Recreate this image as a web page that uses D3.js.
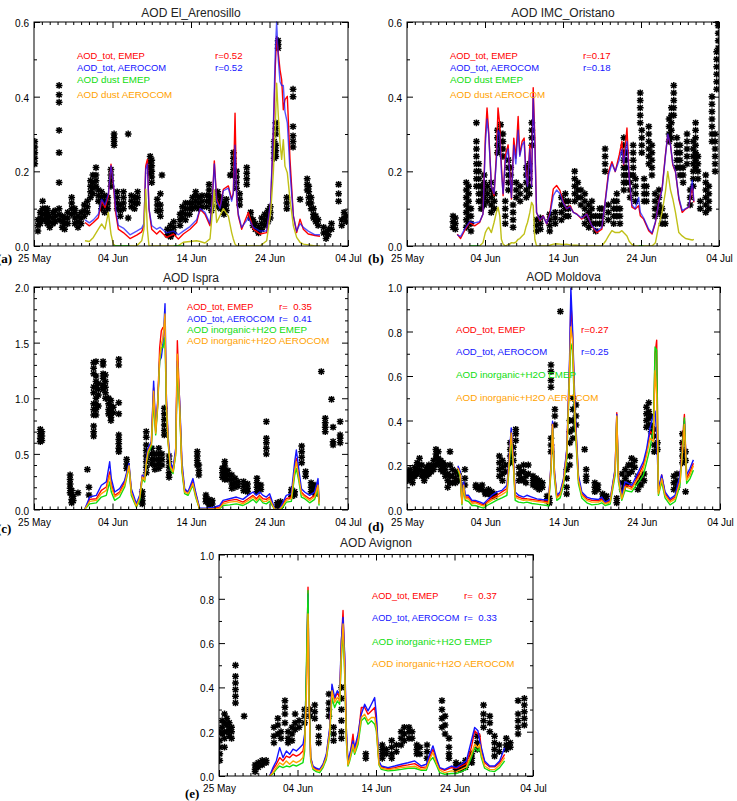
<!DOCTYPE html>
<html>
<head>
<meta charset="utf-8">
<script src="https://cdn.jsdelivr.net/npm/d3@7"></script>
<style>
body{margin:0;background:#fff;}
svg text{font-family:"Liberation Sans",Arial,sans-serif;}
</style>
</head>
<body>
<svg id="fig" width="737" height="801"></svg>
<script>
// x values are days since 25 May 00:00
var dateTicks = [0, 10, 20, 30, 40];
var dateLabels = ["25 May", "04 Jun", "14 Jun", "24 Jun", "04 Jul"];
var ticks06 = [0, 0.2, 0.4, 0.6];
var ticks10 = [0, 0.2, 0.4, 0.6, 0.8, 1.0];
var ticks20 = [0, 0.5, 1.0, 1.5, 2.0];

// ---- (a) El_Arenosillo
var tA = [6.50,7.05,7.56,8.20,8.62,9.04,9.47,9.81,10.11,10.40,10.74,11.38,12.23,13.08,13.72,14.01,14.23,14.44,14.65,14.99,
  15.63,16.05,16.90,17.75,18.39,19.02,19.87,20.72,21.15,21.78,22.42,22.72,22.97,23.27,23.69,24.12,24.76,25.18,25.39,25.61,
  25.82,26.03,26.45,27.30,27.94,28.79,29.64,30.15,30.49,30.74,30.91,31.12,31.34,31.55,31.76,31.97,32.27,32.61,33.04,33.46,
  33.89,34.31,34.94,35.80,36.43];
var totEmepA = [0.063,0.054,0.063,0.076,0.121,0.103,0.134,0.219,0.165,0.09,0.045,0.036,0.02,0.029,0.038,0.054,0.214,0.232,0.099,0.045,
  0.032,0.041,0.023,0.032,0.019,0.032,0.045,0.063,0.099,0.085,0.054,0.125,0.228,0.125,0.103,0.152,0.161,0.125,0.143,0.356,
  0.125,0.081,0.045,0.09,0.045,0.032,0.036,0.116,0.303,0.481,0.561,0.516,0.472,0.445,0.365,0.392,0.401,0.232,0.081,0.036,
  0.072,0.045,0.032,0.028,0.026];
var totAeroA = [0.07,0.062,0.07,0.085,0.125,0.11,0.14,0.215,0.17,0.1,0.055,0.048,0.03,0.04,0.048,0.06,0.205,0.22,0.1,0.055,
  0.045,0.05,0.035,0.04,0.03,0.04,0.052,0.07,0.1,0.09,0.06,0.125,0.22,0.12,0.1,0.148,0.155,0.12,0.14,0.27,
  0.13,0.085,0.05,0.075,0.05,0.04,0.04,0.12,0.32,0.52,0.6,0.5,0.44,0.43,0.43,0.36,0.33,0.2,0.08,0.04,
  0.06,0.05,0.04,0.03,0.03];
var dustAeroA = [0.014,0.012,0.023,0.045,0.059,0.045,0.09,0.032,0.005,0,0,0,0,0,0.014,0.045,0.152,0.045,0,0,
  0,0,0,0,0.001,0.01,0.012,0.014,0.012,0.008,0.019,0.09,0.15,0.063,0.081,0.1,0.08,0.036,0.019,0.005,
  0,0,0,0,0,0,0.014,0.09,0.196,0.32,0.436,0.35,0.276,0.232,0.285,0.214,0.196,0.125,0.054,0.023,
  0.01,0.005,0.003,0,0];
var dustEmepA = [[10.1,0],[10.7,0],[11.4,0],[12.2,0],[12.5,null],[17.8,0],[18.4,0],[19.0,0]];
var obsA = [[0.1,[0.28,0.265,0.25,0.235,0.22]],[0.5,[0.04,0.055,0.07]],[0.8,[0.06,0.075,0.09]],[1.1,[0.07,0.085,0.1,0.12]],
  [1.4,[0.07,0.085,0.1]],[1.7,[0.06,0.075,0.09,0.1]],[2.0,[0.05,0.065,0.08]],[2.4,[0.06,0.075,0.09]],[2.7,[0.065,0.08,0.095]],
  [3.2,[0.43,0.405,0.385,0.31,0.25,0.17,0.1,0.085,0.07]],[3.6,[0.05,0.065,0.08]],[3.9,[0.045,0.06,0.075]],[4.3,[0.06,0.075,0.09]],
  [4.8,[0.13,0.115,0.1,0.085]],[5.2,[0.06,0.075,0.09,0.1]],[5.6,[0.05,0.065,0.08]],[6.0,[0.06,0.075,0.09]],[6.4,[0.08,0.095,0.11]],
  [6.8,[0.09,0.105,0.12]],[7.2,[0.13,0.145,0.16,0.175]],[7.5,[0.14,0.155,0.17,0.19]],[7.9,[0.16,0.175,0.19,0.21]],
  [8.2,[0.12,0.135,0.15]],[8.6,[0.1,0.115,0.13,0.145]],[9.0,[0.09,0.105,0.12,0.135]],[9.4,[0.1,0.115,0.13]],
  [9.8,[0.16,0.175,0.19,0.205]],[10.2,[0.27,0.28,0.29,0.3]],[10.6,[0.1,0.115,0.13,0.145]],[11.0,[0.08,0.095,0.11]],
  [11.4,[0.1,0.115,0.13,0.145]],[12.0,[0.3,0.075]],[12.4,[0.105,0.12,0.135]],[12.8,[0.1,0.115,0.13]],[13.2,[0.115,0.13,0.145]],
  [14.8,[0.24,0.225,0.21,0.195]],[15.0,[0.23,0.215,0.2,0.185,0.17]],[15.7,[0.095,0.11,0.125]],[16.1,[0.08,0.095,0.11,0.14]],
  [16.3,[0.19]],[17.0,[0.03,0.045]],[17.4,[0.025,0.04,0.055]],[17.8,[0.035,0.05,0.065]],[18.6,[0.055,0.07,0.085]],
  [18.9,[0.075,0.09,0.105]],[19.3,[0.07,0.085,0.1,0.115]],[19.8,[0.085,0.1,0.115]],[20.2,[0.1,0.115,0.13]],
  [20.6,[0.105,0.12,0.135,0.145]],[21.0,[0.1,0.115,0.13]],[21.4,[0.105,0.12,0.135]],[22.0,[0.105,0.12,0.135]],
  [22.3,[0.12,0.135,0.15,0.165]],[22.6,[0.095,0.11,0.125]],[23.4,[0.105,0.12,0.135,0.145]],[23.8,[0.1,0.115,0.13]],
  [24.2,[0.085,0.1,0.115]],[24.5,[0.095,0.11,0.125]],[25.0,[0.19]],[25.4,[0.25,0.235,0.22,0.205,0.19]],
  [25.8,[0.2,0.185,0.17,0.155]],[26.2,[0.14,0.125,0.11]],[27.1,[0.21,0.195,0.18,0.165]],[27.6,[0.075,0.09]],[27.9,[0.055,0.07]],
  [28.2,[0.045,0.06]],[28.6,[0.035,0.05]],[29.0,[0.045,0.06,0.075]],[29.4,[0.055,0.07,0.085]],[29.8,[0.065,0.08,0.095]],
  [30.1,[0.075,0.09,0.105]],[30.6,[0.28,0.265,0.25,0.235]],[30.8,[0.33,0.315,0.3,0.27,0.255,0.24]],[31.1,[0.55,0.54,0.53]],
  [32.2,[0.13,0.115,0.1]],[33.0,[0.42,0.4,0.32,0.295,0.28,0.265]],[33.9,[0.125]],[34.8,[0.18,0.165,0.15]],
  [35.0,[0.16,0.145,0.13,0.115]],[35.3,[0.13,0.115,0.1]],[35.6,[0.1,0.085,0.075]],[35.9,[0.08,0.065]],[36.2,[0.055,0.07]],
  [36.9,[0.035,0.05]],[37.2,[0.02,0.035]],[37.5,[0.03,0.045]],[37.9,[0.045,0.06]],[38.8,[0.165,0.14,0.12]],[39.2,[0.055,0.07]],
  [39.5,[0.075,0.09]],[39.8,[0.065,0.08]]];

// ---- (b) IMC_Oristano
var tB = [6.44,6.87,7.38,8.03,8.67,9.31,9.74,10.04,10.26,10.47,10.82,11.16,11.46,11.67,11.89,12.10,12.32,12.62,12.96,13.18,
  13.39,13.69,13.95,14.25,14.46,14.76,15.02,15.24,15.45,15.75,15.97,16.18,16.39,16.61,17.04,17.47,17.90,18.33,18.76,19.18,
  19.61,20.04,20.47,20.90,21.33,21.76,22.40,23.05,23.69,24.33,24.98,25.49,25.84,26.27,26.70,27.21,27.55,27.77,28.20,28.50,
  28.84,29.27,29.70,29.91,30.34,30.99,31.42,31.85,32.27,32.70,33.13,33.43,33.78,34.08,34.42,34.85,35.28,35.71,36.14,36.57,36.78];
var totEmepB = [0.032,0.02,0.041,0.063,0.054,0.063,0.086,0.289,0.37,0.307,0.162,0.135,0.244,0.37,0.325,0.217,0.135,0.244,0.271,0.199,
  0.126,0.289,0.235,0.347,0.244,0.28,0.289,0.199,0.162,0.271,0.162,0.424,0.289,0.09,0.068,0.081,0.059,0.09,0.153,0.162,
  0.149,0.117,0.099,0.108,0.09,0.086,0.072,0.086,0.054,0.036,0.045,0.135,0.199,0.226,0.199,0.244,0.28,0.217,0.316,0.18,
  0.104,0.099,0.108,0.081,0.072,0.041,0.032,0.063,0.117,0.153,0.244,0.298,0.271,0.217,0.199,0.126,0.09,0.099,0.104,0.162,0.117];
var totAeroB = [0.03,0.025,0.045,0.065,0.062,0.065,0.085,0.27,0.34,0.3,0.16,0.14,0.23,0.31,0.3,0.2,0.14,0.23,0.26,0.19,
  0.13,0.27,0.22,0.31,0.24,0.27,0.28,0.19,0.16,0.26,0.16,0.4,0.27,0.09,0.07,0.08,0.06,0.085,0.135,0.15,
  0.14,0.115,0.1,0.105,0.09,0.085,0.075,0.085,0.055,0.04,0.05,0.13,0.19,0.22,0.2,0.23,0.26,0.22,0.28,0.18,
  0.11,0.1,0.13,0.09,0.075,0.045,0.035,0.065,0.115,0.15,0.24,0.3,0.27,0.22,0.2,0.13,0.095,0.1,0.105,0.176,0.12];
var dustAeroB = [null,null,null,null,null,0,0.009,0.036,0.045,0.05,0.036,0.063,0.09,0.104,0.081,0.018,0.005,0,0.004,0.005,
  0.009,0.008,0.01,0.018,0.02,0.027,0.032,0.05,0.063,0.09,0.117,0.108,0.018,0,0,0,0,0.002,0.005,0.006,
  0.005,0.004,0.005,0.003,0.002,0.002,0,0,0,0,0,0.014,0.027,0.041,0.036,0.036,0.041,0.036,0.027,0.012,
  0.004,0,0,0,0,0,0,0.009,0.054,0.09,0.145,0.2,0.15,0.126,0.09,0.036,0.027,0.02,0.018,0.016,0.018];
var dustEmepB = [[8.0,0],[8.7,0],[9.3,0],[9.5,null],[29.7,0],[30.3,0]];
var obsB = [[5.9,[0.05,0.065,0.08]],[6.2,[0.045,0.06,0.075]],[7.6,[0.05,0.07,0.09,0.11,0.13,0.15,0.17]],
  [7.9,[0.06,0.08,0.1,0.12,0.14,0.16]],[8.2,[0.04,0.06,0.08,0.1]],[8.9,[0.33,0.28,0.26,0.24,0.22,0.2,0.18,0.16]],
  [9.2,[0.12,0.14,0.16,0.18,0.2,0.22]],[9.5,[0.1,0.12,0.14,0.16]],[9.9,[0.11,0.13,0.15,0.17,0.19]],[10.3,[0.12,0.14,0.16]],
  [10.8,[0.09,0.11,0.13,0.15,0.17]],[11.2,[0.1,0.12,0.14]],[11.6,[0.25,0.27,0.29,0.31]],[12.0,[0.26,0.28,0.3,0.325]],
  [12.3,[0.24,0.26,0.28,0.3]],[12.6,[0.06,0.08,0.1,0.12]],[13.0,[0.15,0.17,0.19,0.21,0.23]],[13.3,[0.17,0.19,0.21]],
  [13.6,[0.05,0.07,0.09,0.11]],[14.0,[0.13,0.15,0.17]],[14.5,[0.12,0.14,0.16]],[15.3,[0.13,0.15,0.17,0.19,0.21]],
  [15.7,[0.14,0.16,0.18,0.2,0.22]],[16.0,[0.27,0.29,0.31,0.33]],[16.6,[0.04,0.055,0.07]],[17.1,[0.045,0.06,0.075]],
  [18.3,[0.04,0.055,0.07,0.085]],[19.0,[0.06,0.075,0.09]],[19.8,[0.07,0.09,0.11,0.13]],[20.3,[0.08,0.1,0.12,0.14]],
  [20.7,[0.08,0.1,0.12]],[21.5,[0.12,0.14,0.16,0.18,0.2]],[21.9,[0.13,0.15,0.17]],[22.3,[0.11,0.13,0.15]],
  [22.8,[0.06,0.08,0.1,0.12,0.14]],[23.3,[0.05,0.07,0.09,0.11]],[23.7,[0.06,0.08,0.1,0.12]],[24.2,[0.04,0.06,0.08]],
  [24.7,[0.06,0.08,0.1]],[25.0,[0.06,0.08,0.1]],[25.4,[0.2,0.22,0.24,0.26]],[25.8,[0.07,0.09,0.11]],[26.5,[0.06,0.08,0.1,0.12]],
  [26.9,[0.08,0.1,0.12,0.14]],[27.3,[0.06,0.08,0.1]],[27.8,[0.15,0.17,0.19,0.21,0.23,0.25,0.27,0.29]],
  [28.1,[0.17,0.19,0.21,0.23,0.25]],[28.6,[0.13,0.15,0.17,0.19]],[29.0,[0.19,0.21,0.23,0.25,0.27]],[29.3,[0.12,0.14,0.16,0.18]],
  [29.9,[0.33,0.35,0.37,0.39,0.41]],[30.1,[0.25,0.27,0.29,0.31]],[30.4,[0.12,0.14,0.16,0.18]],[30.7,[0.12,0.14,0.16]],
  [31.0,[0.22,0.24,0.26,0.28,0.3,0.32]],[31.4,[0.19,0.21,0.23,0.25,0.27]],[31.8,[0.08,0.1,0.12,0.14]],
  [32.3,[0.09,0.11,0.13,0.15]],[32.7,[0.06,0.08,0.1]],[33.1,[0.06,0.08]],[33.6,[0.28,0.3,0.32,0.34]],
  [33.9,[0.29,0.31,0.33,0.35,0.37]],[34.2,[0.35,0.37,0.39,0.41,0.43]],[34.6,[0.21,0.23,0.25,0.27,0.29]],
  [35.0,[0.19,0.21,0.23,0.25,0.27]],[35.4,[0.17,0.19,0.21]],[35.9,[0.22,0.24,0.26,0.28,0.3]],[36.3,[0.11,0.13,0.15]],
  [36.7,[0.16,0.18,0.2,0.22,0.24,0.26,0.28]],[37.0,[0.21,0.23,0.25,0.27,0.29,0.31,0.33]],[37.3,[0.18,0.2,0.22,0.24]],
  [37.6,[0.1,0.12]],[38.3,[0.09,0.11,0.13,0.15,0.17,0.19]],[38.7,[0.1,0.12,0.14,0.16]],[39.1,[0.28,0.3,0.32,0.34,0.36,0.38,0.4]],
  [39.5,[0.2,0.22,0.24,0.26,0.28,0.3]],[39.7,[0.42,0.44,0.46,0.48,0.5,0.52]],[39.9,[0.53,0.55,0.57,0.59,0.6]]];

// ---- (c) Ispra
var tC = [6.45,7.09,7.94,8.58,9.21,9.64,9.85,10.28,10.91,11.55,12.10,12.40,13.04,13.46,13.80,14.10,14.31,14.52,14.95,15.24,
  15.50,15.75,16.01,16.22,16.43,16.69,16.86,17.07,17.37,17.71,18.05,18.26,18.56,18.85,19.19,19.62,20.25,20.59,21.10,21.95,
  22.80,23.65,24.08,24.93,25.77,26.62,27.26,27.90,28.32,28.75,29.17,29.60,30.02,30.66,31.29,31.72,32.14,32.78,33.21,33.42,
  33.72,34.06,34.48,35.12,35.75,36.18,36.31];
var totAeroC = [0,0.112,0.127,0.218,0.248,0.429,0.278,0.157,0.187,0.263,0.414,0.187,0.051,0.127,0.308,0.293,0.459,0.55,0.61,1.154,
  0.731,0.973,1.335,1.366,1.486,1.849,1.033,0.671,0.429,0.369,0.55,1.335,0.973,0.429,0.187,0.157,0.278,0.157,0.012,0.012,
  0.018,0.036,0.082,0.097,0.112,0.091,0.127,0.157,0.127,0.157,0.127,0.112,0.142,0.006,0.003,0.066,0.127,0.142,0.429,0.535,
  0.369,0.187,0.157,0.127,0.157,0.278,0.082];
var totEmepC = [0,0.091,0.097,0.172,0.202,0.338,0.233,0.127,0.157,0.248,0.399,0.157,0.036,0.112,0.308,0.278,0.429,0.535,0.595,1.094,
  0.701,0.943,1.456,1.607,1.637,1.637,0.973,0.64,0.399,0.338,0.52,1.517,0.943,0.369,0.172,0.157,0.248,0.142,0.006,0.006,
  0.009,0.021,0.066,0.082,0.091,0.066,0.097,0.127,0.097,0.127,0.097,0.091,0.112,0,0,0.051,0.097,0.112,0.369,0.459,
  0.308,0.157,0.127,0.097,0.127,0.233,0.066];
var inorgAeroC = [0,0.073,0.082,0.142,0.172,0.308,0.202,0.112,0.142,0.224,0.393,0.151,0.03,0.103,0.293,0.263,0.429,0.52,0.586,1.063,
  0.686,0.937,1.366,1.486,1.547,1.758,0.973,0.625,0.384,0.338,0.505,1.396,0.912,0.369,0.157,0.142,0.233,0.127,0,0.003,
  0.003,0.012,0.051,0.066,0.073,0.051,0.079,0.112,0.082,0.112,0.073,0.073,0.097,0,0,0.036,0.082,0.097,0.353,0.429,
  0.293,0.142,0.112,0.082,0.112,0.218,0.051];
var inorgEmepC = [0,0.051,0.06,0.112,0.127,0.248,0.157,0.082,0.112,0.202,0.384,0.127,0.021,0.082,0.278,0.248,0.414,0.505,0.565,0.973,
  0.671,0.912,1.335,1.456,1.456,1.547,0.912,0.61,0.369,0.323,0.489,1.275,0.882,0.338,0.142,0.127,0.218,0.112,0,0,
  0,0.006,0.036,0.042,0.051,0.036,0.06,0.091,0.06,0.097,0.06,0.051,0.073,0,0,0.021,0.066,0.073,0.308,0.369,
  0.263,0.112,0.097,0.06,0.091,0.187,0.036];
var obsC = [[0.8,[0.72,0.68,0.64,0.61]],[1.0,[0.7,0.66,0.62]],[4.6,[0.31,0.27,0.23,0.19,0.15]],[4.8,[0.17,0.13,0.09,0.06]],
  [5.0,[0.12,0.08]],[5.6,[0.15]],[6.8,[0.36]],[7.0,[0.2,0.13]],[7.6,[1.32,1.27,1.22,1.1,1.05,0.95,0.9,0.85,0.75,0.7,0.66]],
  [7.9,[1.33,1.2,1.15,1.1,1.0,0.95,0.9,0.85]],[8.2,[1.13,1.08,1.03,0.93]],[8.8,[1.33,1.3,1.22,1.18,1.12,1.08]],
  [9.1,[1.21,1.15,1.1,1.05,1.0]],[9.5,[1.0,0.95,0.9,0.86]],[9.8,[0.98,0.93,0.88,0.83,0.8]],[10.1,[0.92,0.87]],
  [10.8,[1.35,1.3,0.96,0.86,0.67,0.63,0.59,0.55,0.52]],[11.8,[0.45,0.41,0.37]],[13.8,[0.16,0.12,0.08,0.05]],
  [14.3,[0.7,0.65,0.58,0.53,0.48,0.43,0.38,0.33]],[15.0,[0.55,0.5,0.45,0.41]],[15.4,[0.5,0.45,0.4,0.36]],
  [15.9,[0.55,0.5,0.45,0.41,0.37]],[16.3,[0.5,0.45,0.4]],[16.6,[0.91,0.86,0.81,0.76,0.71,0.67]],[17.2,[0.48,0.43,0.38,0.33,0.29]],
  [20.8,[0.52,0.48,0.44,0.4]],[21.0,[0.4,0.35,0.31]],[21.9,[0.13,0.1,0.07]],[22.3,[0.09,0.06,0.04]],[22.7,[0.08,0.05]],
  [24.0,[0.37,0.33,0.29]],[24.3,[0.43,0.39,0.35,0.31,0.27]],[24.7,[0.35,0.31,0.27]],[25.2,[0.31,0.27,0.23,0.19]],
  [25.6,[0.28,0.24,0.2]],[26.0,[0.25,0.21]],[26.7,[0.25,0.21,0.17]],[27.2,[0.23,0.19,0.16]],[28.4,[0.28,0.24,0.2,0.16]],
  [28.9,[0.22,0.18]],[29.6,[0.79,0.64,0.6,0.55,0.5]],[31.0,[0.06,0.03,0.01]],[31.4,[0.07,0.04,0.02]],[32.8,[0.18,0.15,0.12]],
  [33.2,[0.16,0.13]],[34.1,[0.57,0.52,0.47,0.42]],[34.6,[0.34,0.3]],[35.3,[0.24,0.2,0.16]],[35.8,[0.22,0.18,0.14]],[36.6,[1.24]],
  [37.1,[0.82,0.78,0.74,0.7]],[37.9,[0.99]],[38.1,[0.74,0.61,0.58]],[39.0,[0.79,0.67,0.64,0.6]]];

// ---- (d) Moldova
var tD = [6.51,6.81,7.02,7.23,7.45,7.87,8.30,8.72,9.36,9.79,10.21,10.85,11.49,12.13,12.77,12.98,13.32,13.62,13.83,14.26,
  14.89,15.32,15.96,16.60,17.23,17.87,18.09,18.43,18.60,18.85,19.15,19.57,20.00,20.43,20.77,20.94,21.15,21.49,21.91,22.34,
  22.98,23.62,24.47,24.89,25.32,25.96,26.60,26.81,27.02,27.45,27.87,28.30,28.72,29.15,29.79,30.21,30.64,31.06,31.49,31.70,
  31.91,32.13,32.55,32.98,33.62,34.26,34.89,35.32,35.45,35.74,36.17,36.60];
var totAeroD = [0.197,0.17,0.033,0.124,0.064,0.064,0.041,0.041,0.033,0.026,0.041,0.064,0.079,0.086,0.109,0.2,0.367,0.215,0.079,0.064,
  0.056,0.064,0.056,0.048,0.045,0.044,0.041,0.215,0.397,0.17,0.064,0.079,0.139,0.276,0.67,0.995,0.821,0.442,0.155,0.079,
  0.056,0.048,0.045,0.056,0.033,0.045,0.185,0.427,0.155,0.064,0.124,0.117,0.109,0.139,0.185,0.215,0.276,0.367,0.427,0.442,
  0.336,0.094,0.155,0.079,0.048,0.064,0.155,0.306,0.397,0.155,0.185,0.223];
var totEmepD = [0.192,0.162,0.03,0.117,0.056,0.056,0.033,0.036,0.026,0.021,0.033,0.052,0.064,0.079,0.094,0.185,0.352,0.2,0.064,0.056,
  0.048,0.048,0.045,0.042,0.039,0.036,0.033,0.208,0.389,0.162,0.056,0.071,0.132,0.268,0.639,0.942,0.791,0.412,0.139,0.071,
  0.048,0.041,0.039,0.048,0.03,0.039,0.177,0.435,0.147,0.056,0.109,0.106,0.1,0.124,0.17,0.2,0.261,0.352,0.336,0.7,
  0.761,0.079,0.155,0.071,0.041,0.056,0.139,0.367,0.427,0.139,0.17,0.208];
var inorgAeroD = [0.185,0.155,0.026,0.109,0.048,0.048,0.026,0.03,0.021,0.015,0.027,0.042,0.055,0.067,0.082,0.177,0.344,0.192,0.056,0.048,
  0.041,0.044,0.039,0.036,0.033,0.03,0.027,0.2,0.382,0.155,0.052,0.064,0.124,0.253,0.624,0.821,0.761,0.397,0.132,0.064,
  0.041,0.033,0.033,0.041,0.026,0.033,0.17,0.42,0.139,0.048,0.102,0.097,0.091,0.117,0.155,0.185,0.245,0.321,0.306,0.624,
  0.518,0.071,0.139,0.064,0.033,0.048,0.124,0.306,0.382,0.132,0.155,0.197];
var inorgEmepD = [0.177,0.147,0.021,0.102,0.041,0.036,0.018,0.018,0.011,0.006,0.018,0.03,0.042,0.052,0.064,0.155,0.314,0.177,0.041,0.033,
  0.03,0.033,0.027,0.024,0.021,0.018,0.015,0.185,0.367,0.139,0.041,0.052,0.109,0.23,0.594,0.745,0.715,0.367,0.117,0.052,
  0.03,0.021,0.024,0.03,0.018,0.024,0.155,0.412,0.124,0.041,0.086,0.082,0.079,0.102,0.132,0.155,0.215,0.276,0.367,0.73,
  0.715,0.064,0.124,0.052,0.021,0.036,0.109,0.336,0.412,0.117,0.139,0.177];
var obsD = [[0.1,[0.17,0.15,0.13]],[0.4,[0.18,0.16,0.14]],[0.7,[0.16,0.14,0.12]],[1.0,[0.19,0.17,0.15]],[1.3,[0.21,0.18,0.16]],
  [1.6,[0.23,0.2,0.18]],[1.9,[0.2,0.17,0.15]],[2.2,[0.17,0.15,0.13]],[2.5,[0.19,0.17,0.15]],[2.8,[0.2,0.18,0.16]],[3.1,[0.19,0.17]],
  [3.4,[0.22,0.2,0.18]],[3.7,[0.27,0.25,0.23,0.2]],[4.0,[0.26,0.23,0.21]],[4.3,[0.22,0.2,0.18]],[4.6,[0.21,0.19,0.17]],
  [4.9,[0.2,0.18,0.15]],[5.2,[0.16,0.13,0.1]],[5.5,[0.26,0.2,0.15,0.12]],[5.8,[0.18,0.15,0.12]],[6.2,[0.17,0.14,0.12]],
  [6.6,[0.16,0.13]],[7.4,[0.18,0.14,0.11]],[8.8,[0.11,0.1]],[9.2,[0.1,0.09]],[9.6,[0.11,0.09]],[10.0,[0.08,0.07]],[10.4,[0.09,0.07]],
  [10.8,[0.08,0.06]],[11.2,[0.07,0.06]],[11.8,[0.24,0.21,0.18,0.15]],[12.2,[0.22,0.19,0.16,0.13]],[12.6,[0.2,0.17]],
  [13.2,[0.3,0.27,0.24,0.21]],[13.6,[0.28,0.25,0.22]],[13.9,[0.36,0.34,0.31]],[14.3,[0.19,0.16,0.13]],[14.6,[0.17,0.14]],
  [14.9,[0.2,0.17,0.13]],[15.2,[0.15,0.12]],[15.5,[0.2,0.16]],[16.1,[0.15,0.13,0.11]],[16.5,[0.14,0.12,0.1]],[16.9,[0.13,0.11,0.09]],
  [17.3,[0.12,0.1]],[17.9,[0.06,0.04]],[18.2,[0.05,0.03]],[18.4,[0.65,0.62,0.58,0.55,0.32,0.29,0.26]],[18.9,[0.45,0.42,0.38]],
  [19.6,[0.89]],[20.4,[0.18,0.14,0.1,0.07]],[20.8,[0.4,0.35,0.3,0.24,0.2]],[21.2,[0.5,0.45,0.4,0.36,0.32]],[21.6,[0.47,0.42,0.38]],
  [22.7,[0.27]],[22.9,[0.18,0.15,0.13]],[24.0,[0.12,0.1,0.08]],[24.4,[0.11,0.09]],[25.0,[0.07,0.05]],[25.5,[0.06,0.04]],
  [26.8,[0.05,0.03]],[27.5,[0.16,0.12,0.09]],[27.9,[0.18,0.14,0.11]],[28.3,[0.2,0.16,0.12]],[28.7,[0.23,0.2,0.17]],[29.1,[0.22,0.19]],
  [29.5,[0.15,0.12,0.09]],[29.9,[0.14,0.11]],[30.3,[0.16,0.13]],[30.6,[0.46,0.43,0.4,0.37]],[30.9,[0.48,0.44,0.41,0.38]],
  [31.2,[0.42,0.38,0.35]],[31.6,[0.36,0.33,0.29,0.26]],[32.0,[0.3,0.27]],[34.1,[0.15,0.12,0.09]],[34.5,[0.16,0.13,0.1]],
  [35.2,[0.34,0.3,0.27,0.24,0.21]],[35.6,[0.26,0.22,0.08]]];

// ---- (e) Avignon
var tE = [6.45,6.88,7.30,7.73,8.15,8.58,9.00,9.43,9.85,10.28,10.70,10.91,11.13,11.34,11.46,11.68,11.97,12.40,12.82,13.25,
  13.67,14.10,14.39,14.73,15.07,15.37,15.58,15.80,16.01,16.22,16.43,16.65,17.07,17.28,17.71,18.13,18.56,18.98,19.41,19.83,
  20.04,20.38,20.68,21.53,22.38,23.23,24.08,24.93,25.77,26.41,26.84,27.26,27.69,28.11,28.75,29.60,30.23,30.87,31.51,32.14,
  32.57,32.99,33.21,33.42,33.84,34.48,35.12,35.75,36.39];
var totAeroE = [0,0.038,0.068,0.128,0.083,0.113,0.098,0.121,0.113,0.128,0.143,0.189,0.445,0.822,0.37,0.083,0.045,0.035,0.03,0.053,
  0.098,0.219,0.415,0.354,0.385,0.37,0.611,0.716,0.551,0.219,0.068,0.098,0.158,0.128,0.189,0.279,0.324,0.294,0.324,0.354,
  0.279,0.068,0.045,0.038,0.045,0.053,0.06,0.068,0.045,0.053,0.098,0.136,0.083,0.038,0.03,0.045,0.038,0.053,0.068,0.158,
  0.219,0.204,0.158,0.128,0.068,0.045,0.045,0.068,0.128];
var totEmepE = [0,0.03,0.053,0.083,0.068,0.09,0.083,0.098,0.09,0.098,0.113,0.158,0.415,0.852,0.4,0.083,0.041,0.03,0.026,0.05,
  0.09,0.204,0.4,0.347,0.377,0.354,0.596,0.747,0.52,0.189,0.053,0.083,0.189,0.113,0.173,0.309,0.309,0.279,0.294,0.309,
  0.249,0.06,0.041,0.033,0.038,0.045,0.05,0.056,0.038,0.041,0.086,0.121,0.071,0.035,0.026,0.038,0.035,0.045,0.056,0.128,
  0.204,0.189,0.189,0.121,0.06,0.041,0.041,0.06,0.098];
var inorgAeroE = [0,0.015,0.038,0.06,0.05,0.068,0.053,0.068,0.06,0.068,0.083,0.143,0.37,0.732,0.339,0.075,0.035,0.026,0.023,0.045,
  0.083,0.196,0.385,0.332,0.354,0.339,0.551,0.686,0.49,0.173,0.05,0.075,0.143,0.106,0.158,0.264,0.279,0.249,0.264,0.264,
  0.219,0.053,0.035,0.029,0.032,0.038,0.041,0.044,0.03,0.035,0.075,0.106,0.06,0.026,0.015,0.023,0.02,0.03,0.041,0.098,
  0.143,0.128,0.143,0.098,0.045,0.03,0.029,0.05,0.083];
var inorgEmepE = [0,0.011,0.03,0.045,0.038,0.045,0.041,0.05,0.045,0.053,0.06,0.113,0.49,0.837,0.385,0.068,0.03,0.02,0.015,0.038,
  0.075,0.181,0.354,0.309,0.339,0.324,0.52,0.656,0.46,0.158,0.045,0.068,0.128,0.098,0.143,0.249,0.264,0.234,0.249,0.234,
  0.204,0.05,0.03,0.023,0.026,0.03,0.035,0.035,0.026,0.026,0.068,0.083,0.05,0.015,0.008,0.011,0.011,0.02,0.03,0.083,
  0.128,0.113,0.128,0.083,0.035,0.023,0.02,0.038,0.068];
var obsE = [[0.1,[0.2,0.16,0.13,0.1,0.07]],[0.4,[0.25,0.22,0.19]],[0.7,[0.28,0.24,0.2,0.17,0.13]],[1.0,[0.26,0.23,0.2]],
  [1.3,[0.24,0.21,0.18]],[1.6,[0.22,0.2,0.17]],[2.1,[0.5,0.45,0.42,0.39,0.36,0.33]],[3.2,[0.27]],[4.6,[0.05,0.03,0.02]],
  [5.0,[0.06,0.04]],[5.5,[0.07,0.05]],[6.0,[0.07,0.06]],[7.0,[0.22,0.18,0.15]],[7.5,[0.26,0.23,0.19]],[7.9,[0.2,0.17]],
  [8.4,[0.34,0.31,0.28,0.24]],[8.8,[0.2,0.17,0.15]],[9.3,[0.22,0.19,0.16]],[9.7,[0.28,0.24,0.21]],[10.2,[0.25,0.22]],
  [10.9,[0.3,0.27,0.24]],[11.6,[0.3,0.27]],[12.2,[0.32,0.29,0.26]],[12.7,[0.22,0.18,0.15]],[14.0,[0.37,0.33,0.3,0.27]],
  [14.6,[0.22,0.19,0.16]],[15.6,[0.4,0.35,0.3,0.25,0.2,0.17]],[18.7,[0.1,0.08]],[20.8,[0.14,0.12,0.1,0.08]],[21.3,[0.12,0.1]],
  [22.0,[0.16,0.13,0.1,0.08]],[22.6,[0.14,0.11]],[23.2,[0.2,0.17,0.14]],[23.6,[0.22,0.19,0.16]],[24.2,[0.22,0.2,0.17]],
  [24.6,[0.2,0.17]],[25.2,[0.14,0.12,0.1]],[25.6,[0.13,0.1]],[26.5,[0.14,0.11,0.08]],[28.4,[0.34,0.3,0.26,0.22]],
  [28.8,[0.27,0.23,0.19]],[29.3,[0.17,0.13,0.1,0.08]],[30.2,[0.06,0.04,0.03]],[30.8,[0.05,0.03]],[31.4,[0.07,0.05,0.04]],
  [32.2,[0.1,0.08,0.06]],[32.9,[0.18,0.15,0.12]],[33.7,[0.32,0.28,0.25,0.22]],[34.5,[0.27,0.24,0.2]],[35.1,[0.18,0.15,0.12,0.09]],
  [35.7,[0.14,0.11]],[36.6,[0.17,0.14,0.12]],[37.1,[0.15,0.13]],[38.1,[0.34,0.28,0.25,0.22,0.19]],[38.9,[0.35,0.32,0.29,0.26,0.23]]];

var RED = "#ff0000", BLUE = "#1414ff", GREEN = "#10dd10", ORANGE = "#ffa200", OLIVE = "#c0c018";
var legColors = [RED, BLUE, GREEN, ORANGE];
var legTot = ["AOD_tot, EMEP", "AOD_tot, AEROCOM"];
var legDust = ["AOD dust EMEP", "AOD dust AEROCOM"];
var legInorg = ["AOD inorganic+H2O EMEP", "AOD inorganic+H2O AEROCOM"];

var panels = [
  {title:"AOD El_Arenosillo", l:34, r:348, t:22, b:246, yTicks:ticks06, titleY:17, letter:"(a)", lx:-3, ly:262.5,
   obs:obsA, lines:[{t:tA,v:totEmepA,c:RED},{t:tA,v:totAeroA,c:BLUE,op:0.72},{t:tA,v:dustAeroA,c:OLIVE},{pts:dustEmepA,c:GREEN}],
   leg:{x:77, rx:215, ys:[55,67,79,94], names:legTot.concat(legDust), sizes:[9.4,9.4,9.8,9.8], r:["r=0.52","r=0.52"]}},
  {title:"AOD IMC_Oristano", l:407, r:719, t:22, b:246, yTicks:ticks06, titleY:17, letter:"(b)", lx:368, ly:263,
   obs:obsB, lines:[{t:tB,v:totEmepB,c:RED},{t:tB,v:totAeroB,c:BLUE,op:0.72},{t:tB,v:dustAeroB,c:OLIVE},{pts:dustEmepB,c:GREEN}],
   leg:{x:450, rx:583, ys:[55,67,79,94], names:legTot.concat(legDust), sizes:[9.4,9.4,9.8,9.8], r:["r=0.17","r=0.18"]}},
  {title:"AOD Ispra", l:34, r:348, t:287, b:509.5, yTicks:ticks20, titleY:282, letter:"(c)", lx:-3, ly:533,
   obs:obsC, lines:[{t:tC,v:totEmepC,c:RED},{t:tC,v:totAeroC,c:BLUE},{t:tC,v:inorgEmepC,c:GREEN},{t:tC,v:inorgAeroC,c:ORANGE}],
   leg:{x:187, rx:279, ys:[306,318,329,340], names:legTot.concat(legInorg), sizes:[9.2,9.2,9.8,9.8], r:["r=  0.35","r=  0.41"]}},
  {title:"AOD Moldova", l:407, r:720, t:287, b:509.5, yTicks:ticks10, titleY:281, letter:"(d)", lx:368, ly:531,
   obs:obsD, lines:[{t:tD,v:totEmepD,c:RED},{t:tD,v:totAeroD,c:BLUE},{t:tD,v:inorgEmepD,c:GREEN},{t:tD,v:inorgAeroD,c:ORANGE}],
   leg:{x:456, rx:581, ys:[329,351,374,397], names:legTot.concat(legInorg), sizes:[9.6,9.6,9.8,9.8], r:["r=0.27","r=0.25"]}},
  {title:"AOD Avignon", l:219, r:533, t:554.5, b:776, yTicks:ticks10, titleY:547, letter:"(e)", lx:185, ly:797.5,
   obs:obsE, lines:[{t:tE,v:totEmepE,c:RED},{t:tE,v:totAeroE,c:BLUE},{t:tE,v:inorgEmepE,c:GREEN},{t:tE,v:inorgAeroE,c:ORANGE}],
   leg:{x:372, rx:464, ys:[595,617,641,663], names:legTot.concat(legInorg), sizes:[9.2,9.2,9.8,9.8], r:["r=  0.37","r=  0.33"]}}
];

var svg = d3.select("#fig");
svg.append("rect").attr("width",737).attr("height",801).attr("fill","#fff");

// IDL style asterisk (psym=2)
var star = {draw:function(ctx,size){
  var r = Math.sqrt(size)/2, a = r*0.75;
  ctx.moveTo(-r,0); ctx.lineTo(r,0); ctx.moveTo(0,-r); ctx.lineTo(0,r);
  ctx.moveTo(-a,-a); ctx.lineTo(a,a); ctx.moveTo(-a,a); ctx.lineTo(a,-a);
}};
var starPath = d3.symbol().type(star).size(46);

function styleAxis(g){
  g.select(".domain").remove();
  g.attr("font-family",'"Liberation Sans",Arial,sans-serif').attr("font-size",10);
}

panels.forEach(function(p,pi){
  var ymax = p.yTicks[p.yTicks.length-1];
  var x = d3.scaleLinear().domain([0,40]).range([p.l,p.r]);
  var y = d3.scaleLinear().domain([0,ymax]).range([p.b,p.t]);
  var g = svg.append("g");

  g.append("clipPath").attr("id","clip"+pi).append("rect")
    .attr("x",p.l).attr("y",p.t-1).attr("width",p.r-p.l).attr("height",p.b-p.t+1);
  var plot = g.append("g").attr("clip-path","url(#clip"+pi+")");

  // observations
  var pts = [];
  p.obs.forEach(function(c){ c[1].forEach(function(v){ pts.push([c[0],v]); }); });
  plot.selectAll("path.obs").data(pts).enter().append("path").attr("class","obs")
    .attr("d",starPath)
    .attr("transform",function(d){ return "translate("+x(d[0])+","+y(d[1])+")"; })
    .attr("fill","none").attr("stroke","#000").attr("stroke-width",1.5);

  // model lines
  var line = d3.line().defined(function(d){ return d[1] != null; })
    .x(function(d){ return x(d[0]); }).y(function(d){ return y(d[1]); });
  p.lines.forEach(function(s){
    var data = s.pts ? s.pts : s.t.map(function(t,i){ return [t, s.v[i]]; });
    plot.append("path").datum(data).attr("d",line)
      .attr("fill","none").attr("stroke",s.c).attr("stroke-width",1.4)
      .attr("stroke-opacity",s.op || 1).attr("stroke-linejoin","round");
  });

  // axes: ticks inside on all four sides
  var minorX = d3.range(0,41).filter(function(d){ return d % 10 != 0; });
  var minorY = d3.range(0, ymax+1e-9, 0.1).filter(function(v){
    return !p.yTicks.some(function(m){ return Math.abs(m-v) < 1e-6; }); });
  var fmt = d3.format(".1f");

  g.append("g").attr("transform","translate(0,"+p.b+")")
    .call(d3.axisBottom(x).tickValues(dateTicks).tickSize(-6).tickPadding(9)
      .tickFormat(function(d,i){ return dateLabels[i]; })).call(styleAxis);
  g.append("g").attr("transform","translate(0,"+p.b+")")
    .call(d3.axisBottom(x).tickValues(minorX).tickSize(-3).tickFormat("")).call(styleAxis);
  g.append("g").attr("transform","translate(0,"+p.t+")")
    .call(d3.axisTop(x).tickValues(dateTicks).tickSize(-6).tickFormat("")).call(styleAxis);
  g.append("g").attr("transform","translate(0,"+p.t+")")
    .call(d3.axisTop(x).tickValues(minorX).tickSize(-3).tickFormat("")).call(styleAxis);

  g.append("g").attr("transform","translate("+p.l+",0)")
    .call(d3.axisLeft(y).tickValues(p.yTicks).tickSize(-6).tickPadding(5).tickFormat(fmt)).call(styleAxis)
    .selectAll("text").attr("dy","0.45em");
  g.append("g").attr("transform","translate("+p.l+",0)")
    .call(d3.axisLeft(y).tickValues(minorY).tickSize(-3).tickFormat("")).call(styleAxis);
  g.append("g").attr("transform","translate("+p.r+",0)")
    .call(d3.axisRight(y).tickValues(p.yTicks).tickSize(-6).tickFormat("")).call(styleAxis);
  g.append("g").attr("transform","translate("+p.r+",0)")
    .call(d3.axisRight(y).tickValues(minorY).tickSize(-3).tickFormat("")).call(styleAxis);

  g.append("rect").attr("x",p.l).attr("y",p.t).attr("width",p.r-p.l).attr("height",p.b-p.t)
    .attr("fill","none").attr("stroke","#000").attr("stroke-width",1);

  // title and panel letter
  g.append("text").attr("x",(p.l+p.r)/2).attr("y",p.titleY).attr("text-anchor","middle")
    .attr("font-size",12).attr("fill","#222").text(p.title);
  g.append("text").attr("x",p.lx).attr("y",p.ly).attr("font-size",13).attr("font-weight","bold")
    .style("font-family",'"Liberation Serif","Times New Roman",serif').text(p.letter);

  // legend
  p.leg.names.forEach(function(n,i){
    g.append("text").attr("x",p.leg.x).attr("y",p.leg.ys[i]+3.5).attr("font-size",p.leg.sizes[i])
      .attr("fill",legColors[i]).text(n);
  });
  p.leg.r.forEach(function(n,i){
    g.append("text").attr("x",p.leg.rx).attr("y",p.leg.ys[i]+3.5).attr("font-size",9.6)
      .style("white-space","pre").attr("fill",legColors[i]).text(n);
  });
});
</script>
</body>
</html>
